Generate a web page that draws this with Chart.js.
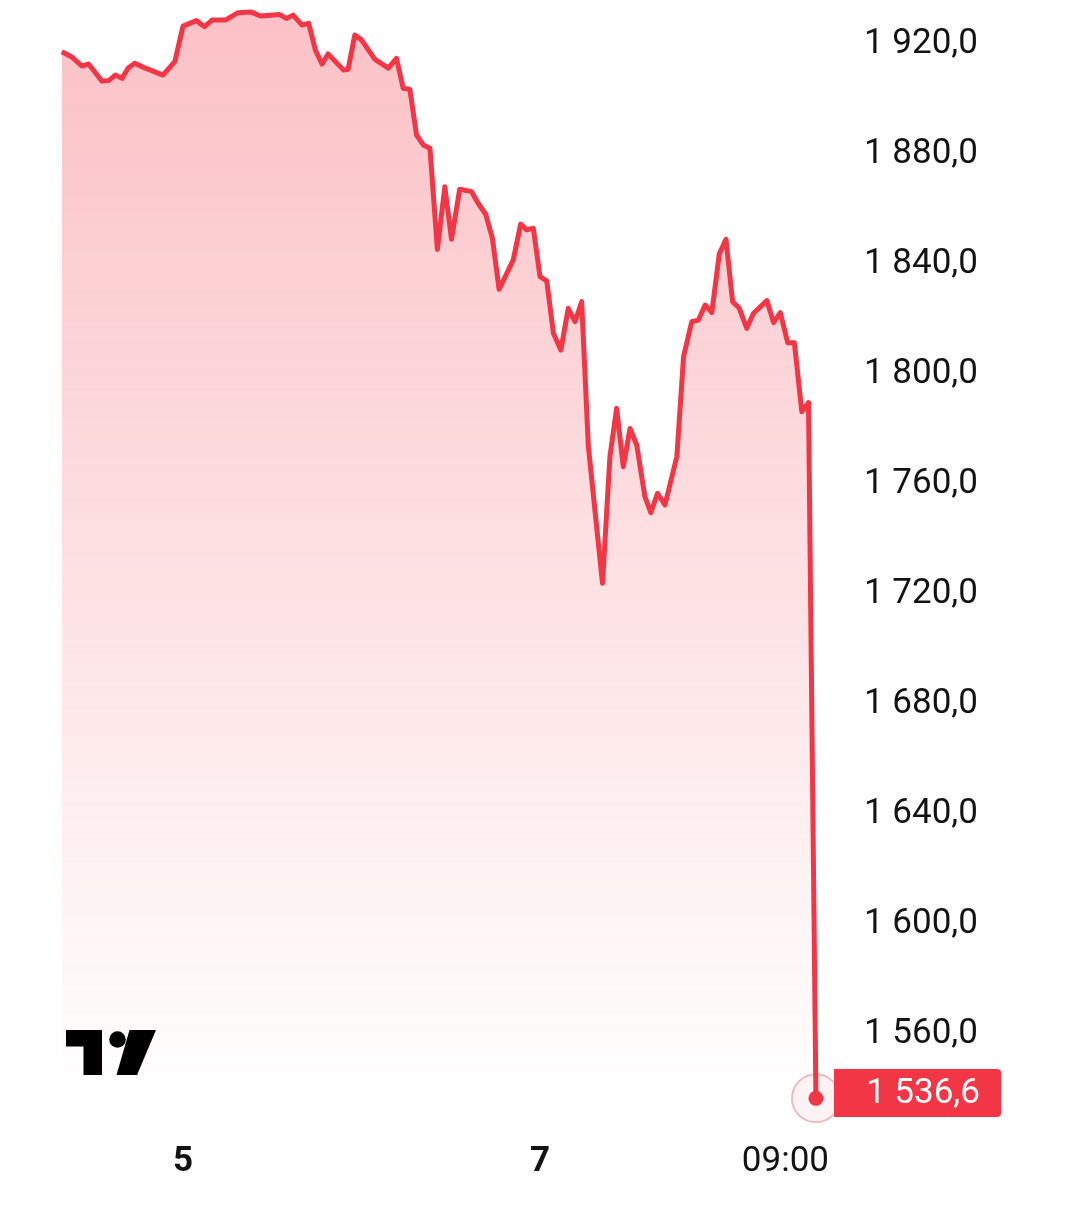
<!DOCTYPE html>
<html>
<head>
<meta charset="utf-8">
<script src="https://cdn.jsdelivr.net/npm/chart.js@4.4.1/dist/chart.umd.min.js"></script>
<style>
  html, body { margin: 0; padding: 0; background: #fff; }
  #wrap { position: relative; width: 1080px; height: 1231px; }
  #logo { position: absolute; left: 0; top: 0; pointer-events: none; }
</style>
</head>
<body>
<div id="wrap">
  <canvas id="priceChart" width="1080" height="1231"></canvas>
  <svg id="logo" width="1080" height="1231">
    <path d="M66 1030 H102 V1075 H83.5 V1046.5 H66 Z" fill="#000"/>
    <circle cx="117.5" cy="1039.5" r="8.3" fill="#000"/>
    <path d="M129.5 1030 H156 L137 1075 H116.5 Z" fill="#000"/>
  </svg>
</div>
<script>
// hours from day 5 00:00
const hours = [-16.3, -15.0, -13.6, -12.7, -10.9, -10.0, -9.1, -8.2, -7.4, -6.5,
  -5.3, -2.7, -1.1, 0.0, 1.8, 2.9, 3.9, 5.7, 7.4, 9.2,
  10.4, 13.0, 13.9, 14.8, 16.0, 16.9, 17.8, 18.7, 19.5, 21.6,
  22.2, 23.1, 24.0, 25.8, 27.6, 28.7, 29.6, 30.5, 31.4, 32.3,
  33.2, 34.2, 35.2, 36.1, 37.2, 38.8, 39.7, 40.7, 41.6, 42.5,
  44.4, 45.4, 46.2, 47.1, 48.0, 48.9, 49.8, 50.8, 51.8, 52.7,
  53.6, 54.5, 56.4, 57.4, 58.3, 59.2, 60.1, 61.0, 62.1, 62.9,
  63.8, 64.8, 66.4, 67.3, 68.4, 69.3, 70.2, 71.1, 72.1, 73.0,
  73.9, 74.8, 75.8, 76.7, 78.5, 79.4, 80.3, 81.3, 82.2, 83.2,
  84.1, 85.1];
const prices = [1917.2, 1915.4, 1912.0, 1912.7, 1906.5, 1906.7, 1908.7, 1907.5, 1911.2, 1913.0,
  1911.5, 1908.7, 1913.6, 1926.5, 1928.5, 1926.3, 1928.7, 1928.7, 1931.4, 1931.6,
  1930.2, 1930.7, 1929.3, 1930.5, 1926.9, 1927.5, 1917.8, 1912.7, 1916.4, 1910.5,
  1910.8, 1923.3, 1921.5, 1914.4, 1911.2, 1914.8, 1903.9, 1903.5, 1886.9, 1883.3,
  1882.1, 1845.3, 1868.1, 1849.0, 1867.2, 1866.3, 1862.0, 1858.1, 1849.3, 1830.8,
  1841.5, 1854.5, 1852.4, 1853.0, 1835.4, 1833.9, 1814.8, 1808.7, 1823.9, 1819.0,
  1826.3, 1773.6, 1723.9, 1770.0, 1787.5, 1766.3, 1780.2, 1774.2, 1755.4, 1749.6,
  1756.6, 1752.4, 1770.0, 1806.3, 1819.0, 1819.6, 1825.1, 1822.3, 1843.6, 1849.0,
  1826.3, 1823.9, 1816.6, 1822.1, 1826.7, 1818.7, 1822.3, 1811.4, 1811.4, 1786.3,
  1789.6, 1536.6];

const yTicks = [1560, 1600, 1640, 1680, 1720, 1760, 1800, 1840, 1880, 1920];
const xTicks = [0, 48, 81];
const xTickLabels = ['5', '7', '09:00'];

const red = '#F23645';
const fontFamily = 'Roboto, "Noto Sans", sans-serif';

function fmtPrice(v) {
    const parts = v.toFixed(1).split('.');
    const intPart = parts[0].replace(/\B(?=(\d{3})+(?!\d))/g, ' ');
    return intPart + ',' + parts[1];
}

const points = hours.map((h, i) => ({ x: h, y: prices[i] }));
const lastIdx = points.length - 1;

const lastPriceLabel = {
    id: 'lastPriceLabel',
    beforeDatasetsDraw(chart) {
        const { ctx } = chart;
        const pt = chart.getDatasetMeta(0).data[lastIdx];
        // halo around last point
        ctx.save();
        ctx.beginPath();
        ctx.arc(pt.x, pt.y, 24, 0, Math.PI * 2);
        ctx.fillStyle = 'rgba(242, 54, 69, 0.06)';
        ctx.fill();
        ctx.lineWidth = 2;
        ctx.strokeStyle = 'rgba(200, 120, 128, 0.45)';
        ctx.stroke();
        ctx.restore();
    },
    afterDraw(chart) {
        const { ctx, chartArea } = chart;
        const y = chart.scales.y.getPixelForValue(prices[lastIdx]);
        const boxH = 48;
        const bottom = Math.min(y + 24, chartArea.bottom + 13);
        const top = bottom - boxH;
        const left = 834, right = 1001;
        ctx.save();
        ctx.fillStyle = red;
        ctx.beginPath();
        ctx.moveTo(left, top);
        ctx.lineTo(right - 4, top);
        ctx.quadraticCurveTo(right, top, right, top + 4);
        ctx.lineTo(right, bottom - 4);
        ctx.quadraticCurveTo(right, bottom, right - 4, bottom);
        ctx.lineTo(left, bottom);
        ctx.closePath();
        ctx.fill();
        ctx.fillStyle = '#fff';
        ctx.font = '35px ' + fontFamily;
        ctx.textBaseline = 'middle';
        ctx.textAlign = 'left';
        ctx.fillText(fmtPrice(prices[lastIdx]), 866, top + boxH / 2 + 1);
        ctx.restore();
    }
};

const ctx = document.getElementById('priceChart').getContext('2d');
new Chart(ctx, {
    type: 'line',
    data: {
        datasets: [{
            data: points,
            borderColor: red,
            borderWidth: 5,
            borderJoinStyle: 'round',
            tension: 0,
            fill: 'start',
            backgroundColor: (c) => {
                const area = c.chart.chartArea;
                if (!area) return 'rgba(242,54,69,0.2)';
                const g = c.chart.ctx.createLinearGradient(0, area.top, 0, area.bottom);
                g.addColorStop(0, 'rgba(242, 54, 69, 0.31)');
                g.addColorStop(1, 'rgba(242, 54, 69, 0.0)');
                return g;
            },
            pointRadius: (c) => c.dataIndex === lastIdx ? 7.5 : 0,
            pointBackgroundColor: red,
            pointBorderWidth: 0,
            clip: false
        }]
    },
    options: {
        responsive: false,
        animation: false,
        layout: { padding: { left: 60, top: 10, right: 0, bottom: 0 } },
        plugins: { legend: { display: false }, tooltip: { enabled: false } },
        scales: {
            x: {
                type: 'linear',
                min: -16.54,
                max: 86.99,
                grid: { display: false, drawTicks: false },
                border: { display: false },
                afterBuildTicks: (scale) => { scale.ticks = xTicks.map(v => ({ value: v })); },
                afterFit: (scale) => {
                    scale.height = 1231 - 1104;
                    scale.paddingLeft = 0; scale.paddingRight = 0;
                    scale.paddingTop = 0; scale.paddingBottom = 0;
                },
                ticks: {
                    padding: 37,
                    maxRotation: 0,
                    autoSkip: false,
                    color: '#131313',
                    font: (c) => ({ family: fontFamily, size: 35, weight: c.tick && c.tick.value === 81 ? 'normal' : 'bold' }),
                    callback: (v) => xTickLabels[xTicks.indexOf(v)]
                }
            },
            y: {
                position: 'right',
                min: 1920 - (1104 - 44) / 2.75,
                max: 1920 + (44 - 10) / 2.75,
                grid: { display: false, drawTicks: false },
                border: { display: false },
                afterBuildTicks: (scale) => { scale.ticks = yTicks.map(v => ({ value: v })); },
                afterFit: (scale) => {
                    scale.width = 250;
                    scale.paddingLeft = 0; scale.paddingRight = 0;
                    scale.paddingTop = 0; scale.paddingBottom = 0;
                },
                ticks: {
                    padding: 34,
                    color: '#131313',
                    font: { family: fontFamily, size: 35 },
                    callback: (v) => fmtPrice(v)
                }
            }
        }
    },
    plugins: [lastPriceLabel]
});
</script>
</body>
</html>
